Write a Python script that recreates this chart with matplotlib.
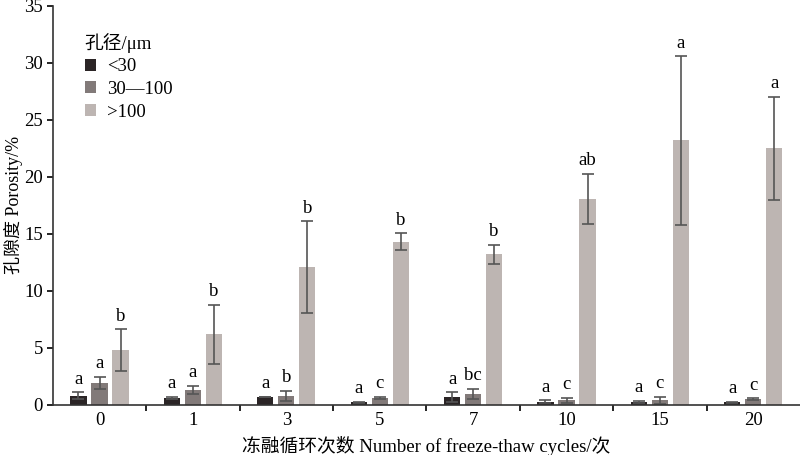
import matplotlib
matplotlib.use('Agg')
import matplotlib.pyplot as plt
import numpy as np
from matplotlib.ticker import FixedLocator

plt.rcParams['font.family'] = ['Liberation Serif', 'Noto Sans CJK SC']
plt.rcParams['mathtext.fontset'] = 'stix'

# freeze-thaw cycles
cycles = ['0', '1', '3', '5', '7', '10', '15', '20']

# porosity (%) for each pore size class, with error
small_mean = [0.82, 0.64, 0.73, 0.25, 0.68, 0.30, 0.25, 0.25]
small_err = [0.30, 0.08, 0.0, 0.05, 0.45, 0.10, 0.10, 0.05]
mid_mean = [1.96, 1.34, 0.80, 0.60, 0.96, 0.40, 0.40, 0.50]
mid_err = [0.52, 0.36, 0.45, 0.12, 0.45, 0.25, 0.30, 0.10]
large_mean = [4.80, 6.20, 12.1, 14.3, 13.2, 18.1, 23.2, 22.5]
large_err = [1.82, 2.60, 4.00, 0.75, 0.85, 2.20, 7.40, 4.55]

# significance letters
small_sig = ['a', 'a', 'a', 'a', 'a', 'a', 'a', 'a']
mid_sig = ['a', 'a', 'b', 'c', 'bc', 'c', 'c', 'c']
large_sig = ['b', 'b', 'b', 'b', 'b', 'ab', 'a', 'a']

series = [
    ('<30', small_mean, small_err, small_sig, '#2b2526'),
    ('30—100', mid_mean, mid_err, mid_sig, '#827a79'),
    ('>100', large_mean, large_err, large_sig, '#bdb5b2'),
]

fig = plt.figure(figsize=(8, 4.55), dpi=100)
ax = fig.add_axes([0.066, 0.11, 0.934, 0.877])

x = np.arange(len(cycles))
width = 0.175
offsets = [-0.225, 0, 0.225]
fs = 13.5

for (label, mean, err, sig, color), off in zip(series, offsets):
    ax.bar(x + off, mean, width, color=color, label=label,
           yerr=err, error_kw=dict(ecolor='#555555', elinewidth=1.2, capsize=4.5, capthick=1.2))
    for xi, m, e, s in zip(x, mean, err, sig):
        ax.text(xi + off, m + e + 0.4, s, ha='center', va='bottom', fontsize=fs)

ax.set_xlim(-0.5, 7.5)
ax.set_ylim(0, 35)
ax.set_yticks(np.arange(0, 36, 5))
ax.set_xticks(x)
ax.set_xticklabels(cycles)
ax.xaxis.set_minor_locator(FixedLocator(np.arange(0.5, 7.0, 1)))
ax.tick_params(axis='x', which='major', length=0, labelsize=fs, pad=5)
ax.tick_params(axis='x', which='minor', length=4, width=1.2, direction='out')
ax.tick_params(axis='y', labelsize=fs, length=4, width=1.2, direction='out', pad=3)

ax.spines['top'].set_visible(False)
ax.spines['right'].set_visible(False)
ax.spines['left'].set_linewidth(1.2)
ax.spines['bottom'].set_linewidth(1.2)
ax.spines['left'].set_color('#333333')
ax.spines['bottom'].set_color('#333333')

ax.set_xlabel('冻融循环次数 Number of freeze-thaw cycles/次', fontsize=fs, labelpad=5)
ax.set_ylabel('孔隙度 Porosity/%', fontsize=13)
ax.yaxis.set_label_coords(-0.040, 0.5)

leg = ax.legend(title='孔径/μm', loc='upper left', bbox_to_anchor=(0.02, 0.975),
                frameon=False, fontsize=fs, title_fontsize=fs,
                handlelength=0.6, handleheight=0.6, handletextpad=0.6,
                labelspacing=0.3, alignment='left')

fig.savefig('out.png', dpi=100)
